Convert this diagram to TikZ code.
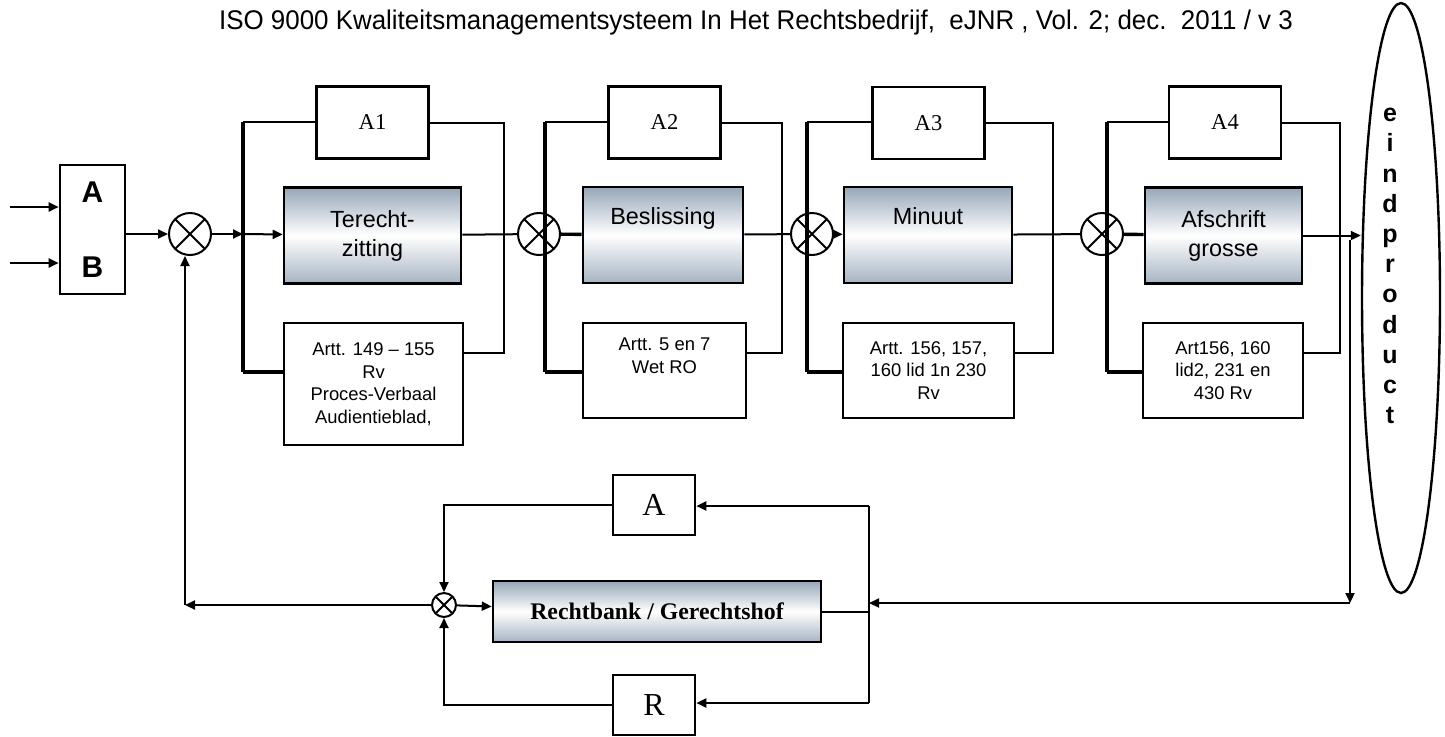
\documentclass[tikz,border=0pt]{standalone}
\usepackage{fontspec}
\setmainfont{Liberation Serif}
\setsansfont{Liberation Sans}
\newfontfamily\titlefont[FakeStretch=0.96]{Liberation Sans}
\usetikzlibrary{arrows.meta,shapes.geometric}
\definecolor{steel}{RGB}{150,166,184}
\newcommand{\procfont}{\sffamily\fontsize{11.7}{14.5}\selectfont}
\newcommand{\artfont}{\sffamily\fontsize{9.2}{11.25}\selectfont}
\tikzset{
  arr/.style={-{Triangle[length=5pt,width=4.5pt]}},
  bus/.style={line width=1.7pt},
  akbox/.style={draw, line width=1.3pt, minimum width=56pt, minimum height=36pt,
    font=\rmfamily\fontsize{11.3}{13}\selectfont},
  procbox/.style={draw, line width=1.3pt, minimum height=48pt, align=center,
    top color=steel, bottom color=steel!85, middle color=white, font=\procfont},
  artbox/.style={draw, line width=1.3pt, minimum height=47.5pt, align=center,
    font=\artfont},
  mix/.style={circle, draw, line width=1pt, minimum size=21pt, inner sep=0pt,
    path picture={\draw[line width=1pt]
      (path picture bounding box.north west) -- (path picture bounding box.south east)
      (path picture bounding box.north east) -- (path picture bounding box.south west);}}
}

\begin{document}
\begin{tikzpicture}[x=0.5pt, y=-0.5pt, line width=1pt]
  \useasboundingbox (0,0) rectangle (1445,736);
  \node[font=\titlefont\fontsize{13.5}{15}\selectfont] (title) at (756,23)
    {ISO 9000 Kwaliteitsmanagementsysteem In Het Rechtsbedrijf,\ \ eJNR , Vol. 2; dec.\ \ 2011 / v 3};

  % input
  \node[draw, line width=1.3pt, minimum width=32.5pt, minimum height=64.5pt, align=center,
    font=\sffamily\bfseries\fontsize{15}{37.5}\selectfont] (ab) at (92.5,229.5) {A\\B};
  \coordinate (in1) at (10,207);
  \coordinate (in2) at (10,263);
  \draw[arr] (in1) -- (in1 -| ab.west);
  \draw[arr] (in2) -- (in2 -| ab.west);
  \node[mix] (s1) at (190,234) {};
  \draw[arr] (ab.east |- s1) -- (s1);

  % stages
  \node[akbox] (a1) at (372.5,122.5) {A1};
  \node[procbox, minimum width=88.5pt] (p1) at (372.5,235.5) {Terecht-\\zitting};
  \node[artbox, minimum width=89.5pt, minimum height=61pt] (r1) at (373.5,384)
    {Artt. 149 – 155\\Rv\\Proces-Verbaal\\Audientieblad,};
  \node[mix] (s2) at (539,234) {};
  \node[akbox] (a2) at (664.5,122.5) {A2};
  \node[procbox, minimum width=80pt] (p2) at (663,235) {Beslissing\\\strut};
  \node[artbox, minimum width=81.5pt] (r2) at (664.5,370.5) {Artt. 5 en 7\\Wet RO\\\strut};
  \node[mix] (s3) at (812,234) {};
  \node[akbox] (a3) at (928.5,123) {A3};
  \node[procbox, minimum width=84pt] (p3) at (928,235) {Minuut\\\strut};
  \node[artbox, minimum width=85.5pt] (r3) at (928.5,370.5) {Artt. 156, 157,\\160 lid 1n 230\\Rv};
  \node[mix] (s4) at (1102,234) {};
  \node[akbox] (a4) at (1225,122.5) {A4};
  \node[procbox, minimum width=78.5pt] (p4) at (1223.5,235.5) {Afschrift\\grosse};
  \node[artbox, minimum width=80pt] (r4) at (1223,370.5) {Art156, 160\\lid2, 231 en\\430 Rv};

  \foreach \i/\bx/\rx in {1/243/504, 2/545/782, 3/807/1053, 4/1107/1340} {
    \coordinate (t\i) at (\bx,122);
    \coordinate (b\i) at (\bx,372);
    \coordinate (rt\i) at (\rx,123);
    \coordinate (rb\i) at (\rx,353);
    \draw[bus] (t\i) -- (b\i);
    \draw (t\i) -- (t\i -| a\i.west);
    \draw (a\i.east |- rt\i) -- (rt\i) -- (rb\i) -- (rb\i -| r\i.east);
    \draw[bus] (b\i) -- (b\i -| r\i.west);
  }

  \draw[arr] (s1) -- (b1 |- s1);
  \draw[arr] (b1 |- s1) -- (p1);
  \draw (p1) -- (s2);
  \draw[bus] (s2) -- (p2);
  \draw (p2) -- (s3);
  \draw[arr] (s3) -- (p3);
  \draw (p3) -- (s4);
  \draw[bus] (s4) -- (p4);

  % eindproduct
  \node[draw, ellipse, line width=1.2pt, minimum width=39pt, minimum height=295pt,
    inner sep=0pt] (eind) at (1401,298) {};
  \node[font=\sffamily\bfseries\fontsize{12.5}{15.1}\selectfont, align=center] (eindtxt)
    at (1390,266) {e\\i\\n\\d\\p\\r\\o\\d\\u\\c\\t};
  \draw[arr] (p4.east) -- (p4.east -| eind.west);

  % feedback
  \coordinate (dn) at (1350,240);
  \coordinate (fbr) at (1350,603);
  \coordinate (bj) at (869,603);
  \coordinate (railtop) at (869,506);
  \coordinate (railbot) at (869,703);
  \draw[arr] (dn) -- (fbr);
  \draw[arr] (fbr) -- (bj);
  \draw (railtop) -- (railbot);
  \node[draw, line width=1.3pt, minimum width=41pt, minimum height=30pt,
    font=\rmfamily\fontsize{16}{18}\selectfont] (ak) at (654,505) {A};
  \node[draw, line width=1.3pt, minimum width=41pt, minimum height=30pt,
    font=\rmfamily\fontsize{16}{18}\selectfont] (rk) at (654,705) {R};
  \node[draw, line width=1.3pt, minimum width=164pt, minimum height=30.5pt,
    top color=steel, bottom color=steel!85, middle color=white,
    font=\rmfamily\bfseries\fontsize{11.9}{14}\selectfont] (hof) at (657,611.5)
    {Rechtbank / Gerechtshof};
  \draw[arr] (railtop) -- (railtop -| ak.east);
  \draw[arr] (railbot) -- (railbot -| rk.east);
  \draw (hof.east) -- (hof.east -| railtop);
  \node[mix, minimum size=12pt] (sb) at (444,605) {};
  \draw[arr] (ak.west) -| (sb.north);
  \draw[arr] (rk.west) -| (sb.south);
  \draw[arr] (sb) -- (hof);
  \coordinate (fbl) at (185,605);
  \draw[arr] (sb) -- (fbl);
  \draw[arr] (fbl) -- (fbl |- s1.south);
\end{tikzpicture}
\end{document}
